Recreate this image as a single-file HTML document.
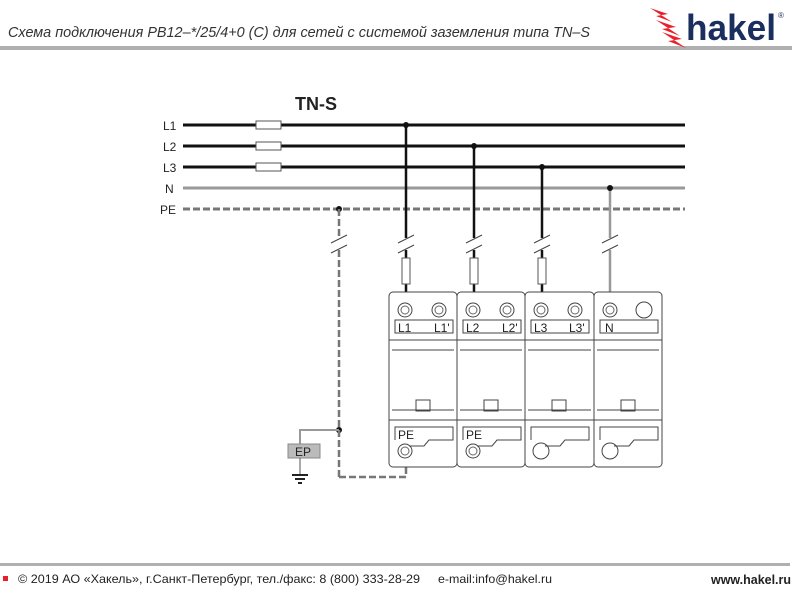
<!DOCTYPE html>
<html><head><meta charset="utf-8"><style>
body{margin:0;background:#fff;width:800px;height:600px;overflow:hidden;font-family:"Liberation Sans",sans-serif}
</style></head><body>
<svg width="800" height="600" viewBox="0 0 800 600" xmlns="http://www.w3.org/2000/svg" font-family="Liberation Sans, sans-serif">
<text x="8" y="37" font-size="15" font-style="italic" fill="#333" textLength="582" lengthAdjust="spacingAndGlyphs">Схема подключения PB12–*/25/4+0 (C) для сетей с системой заземления типа TN–S</text>
<rect x="0" y="46" width="792" height="4" fill="#b0b0b0"/>
<g fill="#e8202a"><polygon points="650,8 668,14 656,16 672,22"/><polygon points="656,20 676,27 662,29 680,36"/><polygon points="662,32 682,39 668,41 686,48"/></g>
<text x="686" y="40" font-size="36" font-weight="bold" fill="#1b2f5f" textLength="90" lengthAdjust="spacingAndGlyphs">hakel</text>
<text x="778" y="18" font-size="8" fill="#1b2f5f">®</text>
<text x="295" y="110" font-size="18" font-weight="bold" fill="#222">TN-S</text>
<g font-size="12" fill="#222"><text x="163" y="130">L1</text><text x="163" y="151">L2</text><text x="163" y="172">L3</text><text x="165" y="193">N</text><text x="160" y="214">PE</text></g>
<g stroke="#111" stroke-width="3"><line x1="183" y1="125" x2="685" y2="125"/><line x1="183" y1="146" x2="685" y2="146"/><line x1="183" y1="167" x2="685" y2="167"/></g>
<line x1="183" y1="188" x2="685" y2="188" stroke="#999" stroke-width="3"/>
<line x1="183" y1="209" x2="685" y2="209" stroke="#777" stroke-width="3" stroke-dasharray="7,3"/>
<g fill="#fff" stroke="#555" stroke-width="1"><rect x="256" y="121" width="25" height="8"/><rect x="256" y="142" width="25" height="8"/><rect x="256" y="163" width="25" height="8"/></g>
<g stroke="#111" stroke-width="2.5"><line x1="406" y1="125" x2="406" y2="292"/><line x1="474" y1="146" x2="474" y2="292"/><line x1="542" y1="167" x2="542" y2="292"/></g>
<line x1="610" y1="188" x2="610" y2="292" stroke="#999" stroke-width="2.5"/>
<g fill="#111"><circle cx="406" cy="125" r="3"/><circle cx="474" cy="146" r="3"/><circle cx="542" cy="167" r="3"/><circle cx="610" cy="188" r="3"/><circle cx="339" cy="209" r="3"/><circle cx="339" cy="430" r="3"/></g>
<g fill="#fff" stroke="#555"><rect x="402" y="258" width="8" height="26"/><rect x="470" y="258" width="8" height="26"/><rect x="538" y="258" width="8" height="26"/></g>
<g stroke="#fff" stroke-width="6"><line x1="339" y1="238" x2="339" y2="250"/><line x1="406" y1="238" x2="406" y2="250"/><line x1="474" y1="238" x2="474" y2="250"/><line x1="542" y1="238" x2="542" y2="250"/><line x1="610" y1="238" x2="610" y2="250"/></g>
<g stroke="#444" stroke-width="1">
<line x1="331" y1="243" x2="347" y2="235"/><line x1="331" y1="253" x2="347" y2="245"/>
<line x1="398" y1="243" x2="414" y2="235"/><line x1="398" y1="253" x2="414" y2="245"/>
<line x1="466" y1="243" x2="482" y2="235"/><line x1="466" y1="253" x2="482" y2="245"/>
<line x1="534" y1="243" x2="550" y2="235"/><line x1="534" y1="253" x2="550" y2="245"/>
<line x1="602" y1="243" x2="618" y2="235"/><line x1="602" y1="253" x2="618" y2="245"/>
</g>
<g fill="none" stroke="#777" stroke-width="2.5" stroke-dasharray="7,3">
<line x1="339" y1="209" x2="339" y2="238"/><line x1="339" y1="250" x2="339" y2="477"/>
<polyline points="339,477 406,477 406,467"/>
</g>
<polyline points="339,430 300,430 300,444" fill="none" stroke="#999" stroke-width="2"/>
<rect x="288" y="444" width="32" height="14" fill="#bbb" stroke="#888"/>
<text x="295" y="456" font-size="12" fill="#222">EP</text>
<line x1="300" y1="458" x2="300" y2="474" stroke="#555"/>
<g stroke="#222" stroke-width="2"><line x1="292" y1="475" x2="308" y2="475"/><line x1="295" y1="479" x2="305" y2="479"/><line x1="298" y1="483" x2="302" y2="483"/></g>
<g fill="none" stroke="#444" stroke-width="1">
<g transform="translate(389,0)">
<rect x="0" y="292" width="68" height="175" rx="4"/><rect x="6" y="320" width="58" height="13"/><line x1="0" y1="340" x2="68" y2="340"/><line x1="3" y1="350" x2="65" y2="350"/><line x1="3" y1="410" x2="65" y2="410"/><line x1="0" y1="420" x2="68" y2="420"/><rect x="27" y="400" width="14" height="11"/><polyline points="6,440 6,427 64,427 64,440 40,440 35,446 20,446"/>
<circle cx="16" cy="310" r="7"/><circle cx="50" cy="310" r="7"/><circle cx="16" cy="451" r="7"/></g>
<g transform="translate(457,0)">
<rect x="0" y="292" width="68" height="175" rx="4"/><rect x="6" y="320" width="58" height="13"/><line x1="0" y1="340" x2="68" y2="340"/><line x1="3" y1="350" x2="65" y2="350"/><line x1="3" y1="410" x2="65" y2="410"/><line x1="0" y1="420" x2="68" y2="420"/><rect x="27" y="400" width="14" height="11"/><polyline points="6,440 6,427 64,427 64,440 40,440 35,446 20,446"/>
<circle cx="16" cy="310" r="7"/><circle cx="50" cy="310" r="7"/><circle cx="16" cy="451" r="7"/></g>
<g transform="translate(525,0)">
<rect x="0" y="292" width="69" height="175" rx="4"/><rect x="6" y="320" width="58" height="13"/><line x1="0" y1="340" x2="69" y2="340"/><line x1="3" y1="350" x2="66" y2="350"/><line x1="3" y1="410" x2="66" y2="410"/><line x1="0" y1="420" x2="69" y2="420"/><rect x="27" y="400" width="14" height="11"/><polyline points="6,440 6,427 64,427 64,440 40,440 35,446 20,446"/>
<circle cx="16" cy="310" r="7"/><circle cx="50" cy="310" r="7"/><circle cx="16" cy="451" r="8"/></g>
<g transform="translate(594,0)">
<rect x="0" y="292" width="68" height="175" rx="4"/><rect x="6" y="320" width="58" height="13"/><line x1="0" y1="340" x2="68" y2="340"/><line x1="3" y1="350" x2="65" y2="350"/><line x1="3" y1="410" x2="65" y2="410"/><line x1="0" y1="420" x2="68" y2="420"/><rect x="27" y="400" width="14" height="11"/><polyline points="6,440 6,427 64,427 64,440 40,440 35,446 20,446"/>
<circle cx="16" cy="310" r="7"/><circle cx="50" cy="310" r="8"/><circle cx="16" cy="451" r="8"/></g>
</g>
<g fill="none" stroke="#666" stroke-width="1">
<circle cx="405" cy="310" r="4"/><circle cx="439" cy="310" r="4"/><circle cx="405" cy="451" r="4"/>
<circle cx="473" cy="310" r="4"/><circle cx="507" cy="310" r="4"/><circle cx="473" cy="451" r="4"/>
<circle cx="541" cy="310" r="4"/><circle cx="575" cy="310" r="4"/><circle cx="610" cy="310" r="4"/>
</g>
<g font-size="12" fill="#222"><text x="398" y="332">L1</text><text x="434" y="332">L1'</text><text x="466" y="332">L2</text><text x="502" y="332">L2'</text><text x="534" y="332">L3</text><text x="569" y="332">L3'</text><text x="605" y="332">N</text><text x="398" y="439">PE</text><text x="466" y="439">PE</text></g>
<rect x="0" y="563" width="790" height="3" fill="#b0b0b0"/>
<rect x="3" y="576" width="5" height="5" fill="#e8202a"/>
<text x="18" y="583" font-size="12" fill="#222" textLength="402" lengthAdjust="spacingAndGlyphs">© 2019 АО «Хакель», г.Санкт-Петербург, тел./факс: 8 (800) 333-28-29</text>
<text x="438" y="583" font-size="12" fill="#222" textLength="114" lengthAdjust="spacingAndGlyphs">e-mail:info@hakel.ru</text>
<text x="711" y="584" font-size="13" font-weight="bold" fill="#222" textLength="80" lengthAdjust="spacingAndGlyphs">www.hakel.ru</text>
</svg>
</body></html>
